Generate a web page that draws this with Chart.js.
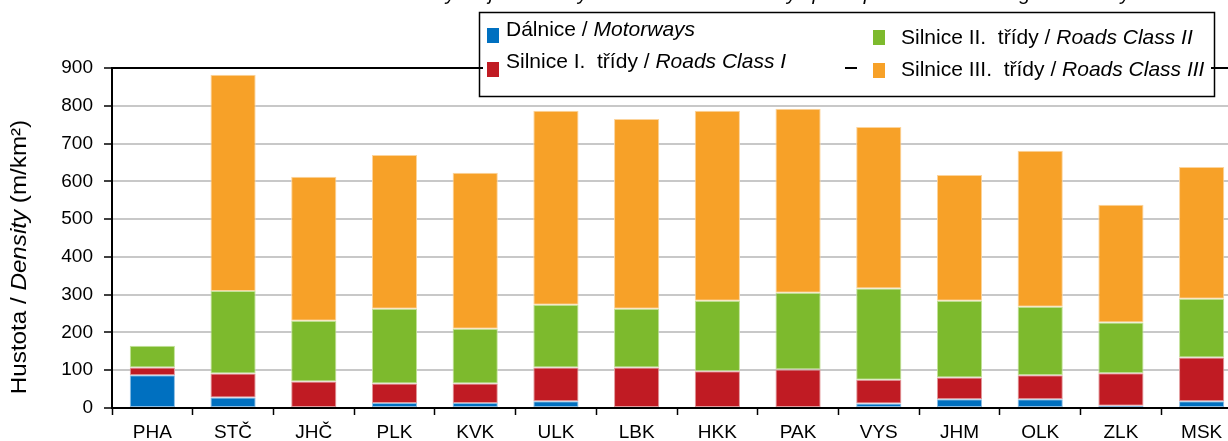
<!DOCTYPE html>
<html>
<head>
<meta charset="utf-8">
<script src="https://cdn.jsdelivr.net/npm/chart.js@4.4.1/dist/chart.umd.min.js"></script>
<style>
  html, body { margin: 0; padding: 0; background: #fff; overflow: hidden; }
  .chart__container { width: 1260px; height: 441px; position: relative; }
</style>
</head>
<body>
<div class="chart__container"><canvas id="chart"></canvas></div>
<script>
// regions (kraje)
const categories = ['PHA', 'STČ', 'JHČ', 'PLK', 'KVK', 'ULK', 'LBK', 'HKK', 'PAK', 'VYS', 'JHM', 'OLK', 'ZLK', 'MSK'];

// density in m/km2, one array per road class (stacked)
const motorways     = [87, 28, 0, 13, 13, 18, 0, 0, 0, 12, 23, 23, 6, 18];
const roadsClassI   = [20, 63, 70, 52, 52, 89, 107, 97, 102, 63, 58, 64, 86, 116];
const roadsClassII  = [58, 219, 161, 198, 145, 166, 156, 187, 203, 241, 203, 181, 134, 155];
const roadsClassIII = [0, 572, 381, 407, 413, 514, 502, 503, 487, 428, 333, 413, 312, 349];

const namesCz = ['Dálnice', 'Silnice I.  třídy', 'Silnice II.  třídy', 'Silnice III.  třídy'];
const namesEn = ['Motorways', 'Roads Class I', 'Roads Class II', 'Roads Class III'];

const yMin = 0, yMax = 900, yStep = 100;

const colors  = ['#0070c0', '#c01b23', '#7dba2d', '#f7a128'];
const borders = ['#8cbde3', '#e2999c', '#c3e29a', '#fcd49c'];

const FONT = "'Liberation Sans', Arial, sans-serif";

// draws mixed regular / italic text pieces in a row, returns end x
function drawPieces(ctx, pieces, x, y, size) {
    pieces.forEach(p => {
        ctx.font = (p.italic ? 'italic ' : '') + size + 'px ' + FONT;
        ctx.fillText(p.text, x, y);
        x += ctx.measureText(p.text).width;
    });
    return x;
}

const extras = {
    id: 'extras',
    afterDraw(chart) {
        const ctx = chart.ctx;
        const area = chart.chartArea;
        ctx.save();
        ctx.fillStyle = '#000';
        ctx.textBaseline = 'alphabetic';

        // cut-off chart title at the very top
        ctx.font = 'italic 20px ' + FONT;
        ctx.textAlign = 'center';
        ctx.fillText('Hustota silnic a dálnic na km² rozlohy kraje / Density of roads and motorways per square km of the region territory', 628, 0);
        ctx.textAlign = 'left';

        // y axis title (slightly stretched along the text like the original)
        ctx.save();
        ctx.translate(20, (area.top + area.bottom) / 2 + 19);
        ctx.rotate(-Math.PI / 2);
        ctx.scale(1.1, 1);
        const yTitle = [{ text: 'Hustota / ' }, { text: 'Density', italic: true }, { text: ' (m/km²)' }];
        let w = 0;
        yTitle.forEach(p => { ctx.font = (p.italic ? 'italic ' : '') + '22px ' + FONT; w += ctx.measureText(p.text).width; });
        ctx.textBaseline = 'middle';
        drawPieces(ctx, yTitle, -w / 2, 0, 22);
        ctx.restore();

        // legend box
        ctx.lineWidth = 1.5;
        ctx.strokeStyle = '#000';
        ctx.strokeRect(479.5, 12.5, 735, 84);
        const items = [
            { i: 0, sx: 487, sy: 28, tx: 506, cy: 30, x0: 483, x1: 845 },
            { i: 1, sx: 487, sy: 62, tx: 506, cy: 62, x0: 483, x1: 845 },
            { i: 2, sx: 873, sy: 30, tx: 901, cy: 38, x0: 857, x1: 1211 },
            { i: 3, sx: 873, sy: 63, tx: 901, cy: 70, x0: 857, x1: 1211 }
        ];
        ctx.textBaseline = 'middle';
        items.forEach(it => {
            ctx.fillStyle = '#fff';
            ctx.fillRect(it.x0, it.cy - 12, it.x1 - it.x0, 24);
            ctx.fillStyle = colors[it.i];
            ctx.fillRect(it.sx, it.sy, 12, 15);
            ctx.fillStyle = '#000';
            drawPieces(ctx, [{ text: namesCz[it.i] + ' / ' }, { text: namesEn[it.i], italic: true }], it.tx, it.cy, 21);
        });
        ctx.restore();
    }
};

const makeSet = (label, data, i) => ({
    label, data,
    backgroundColor: colors[i],
    borderColor: borders[i],
    borderWidth: 1,
    borderSkipped: false,
    categoryPercentage: 1,
    barPercentage: 0.56
});

new Chart(document.getElementById('chart'), {
    type: 'bar',
    data: {
        labels: categories,
        datasets: [
            makeSet(namesEn[0], motorways, 0),
            makeSet(namesEn[1], roadsClassI, 1),
            makeSet(namesEn[2], roadsClassII, 2),
            makeSet(namesEn[3], roadsClassIII, 3)
        ]
    },
    options: {
        responsive: true,
        maintainAspectRatio: false,
        animation: false,
        layout: { padding: { top: 68, right: 18, left: 0, bottom: 0 } },
        plugins: { legend: { display: false }, title: { display: false }, tooltip: { enabled: false } },
        scales: {
            x: {
                stacked: true,
                afterFit: scale => { scale.height = 33; },
                grid: { drawOnChartArea: false, drawTicks: true, tickLength: 7, tickColor: '#000', tickWidth: 1.5 },
                border: { display: true, color: '#000', width: 2 },
                ticks: { color: '#000', font: { family: FONT, size: 19 }, padding: 6, maxRotation: 0, autoSkip: false }
            },
            y: {
                stacked: true,
                min: yMin,
                max: yMax,
                afterFit: scale => { scale.width = 112; },
                grid: {
                    color: c => c.tick && c.tick.value === yMax ? '#000' : '#c8c8c8',
                    lineWidth: 2,
                    drawTicks: true,
                    tickLength: 8,
                    tickColor: '#000',
                    tickWidth: 1.5
                },
                border: { display: true, color: '#000', width: 2 },
                ticks: { stepSize: yStep, color: '#000', font: { family: FONT, size: 19 }, padding: 11 }
            }
        }
    },
    plugins: [extras]
});
</script>
</body>
</html>
